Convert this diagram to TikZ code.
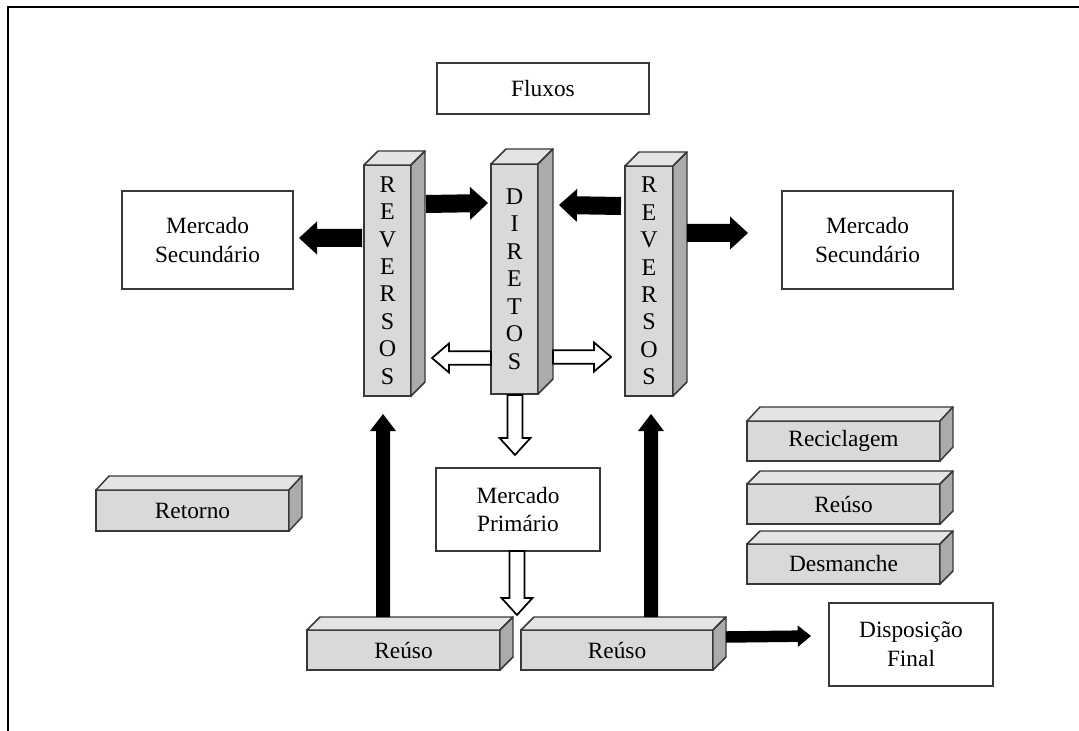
\documentclass[tikz,border=0pt]{standalone}
\usepackage{fontspec}
\setmainfont{Liberation Serif}
\usetikzlibrary{calc}
\definecolor{frontc}{HTML}{D9D9D9}
\definecolor{topc}{HTML}{E4E4E4}
\definecolor{sidec}{HTML}{ABABAB}
\definecolor{edge}{HTML}{383838}
\newcommand\threedfaces[3]{%
  \filldraw[face, fill=topc] (#1.north west) -- ++(#2,#3) -- ($(#1.north east)+(#2,#3)$) -- (#1.north east) -- cycle;
  \filldraw[face, fill=sidec] (#1.north east) -- ++(#2,#3) -- ($(#1.south east)+(#2,#3)$) -- (#1.south east) -- cycle;}
\begin{document}
\begin{tikzpicture}[x=0.75pt,y=-0.75pt,
  every node/.style={font={\fontsize{17.5}{21.5}\selectfont}},
  sz/.style 2 args={minimum width={#1*0.75pt}, minimum height={#2*0.75pt}},
  plainbox/.style={draw=edge, line width=1.1pt, fill=white, inner sep=0pt, outer sep=0pt, align=center},
  frontbox/.style={draw=edge, line width=1.1pt, fill=frontc, inner sep=0pt, outer sep=0pt, align=center},
  colbox/.style={frontbox, font={\fontsize{18}{20.6}\selectfont}},
  face/.style={draw=edge, line width=1.1pt, line join=round},
  blockpath/.style n args={3}{to path={
    let \p1=(\tikztostart), \p2=(\tikztotarget),
        \n1={atan2(\y2-\y1,\x2-\x1)},
        \p3=($(\p2)!#3!(\p1)$) in
    ($(\p1)+(\n1+90:#1)$) -- ($(\p3)+(\n1+90:#1)$) -- ($(\p3)+(\n1+90:#2)$) -- (\p2)
    -- ($(\p3)+(\n1-90:#2)$) -- ($(\p3)+(\n1-90:#1)$) -- ($(\p1)+(\n1-90:#1)$) -- cycle}},
  solidarrow/.style n args={3}{blockpath={#1}{#2}{#3}, fill=black},
  hollowarrow/.style n args={3}{blockpath={#1}{#2}{#3}, fill=white, draw=black, line width=1.3pt, line join=miter}
]
\useasboundingbox (0,0) rectangle (1079,731);
% frame
\draw[line width=1.6pt] (8,731) -- (8,7) -- (1079,7);

% plain boxes
\node[plainbox, sz={212}{51}] (flux) at (543,88.5) {Fluxos};
\node[plainbox, sz={171}{98}] (msl) at (207.5,240) {Mercado\\Secundário};
\node[plainbox, sz={171}{98}] (msr) at (867.5,240) {Mercado\\Secundário};
\node[plainbox, sz={164}{83}] (mp) at (518,509.5) {Mercado\\Primário};
\node[plainbox, sz={164}{83}] (disp) at (911,644.5) {Disposição\\Final};

% columns
\node[colbox, sz={47}{231}] (revL) at (387.5,280.5) {R\\E\\V\\E\\R\\S\\O\\S};
\threedfaces{revL}{14}{-14}
\node[colbox, sz={47}{230}] (dir) at (514.5,279) {D\\I\\R\\E\\T\\O\\S};
\threedfaces{dir}{15}{-15}
\node[colbox, sz={48}{230}] (revR) at (649,281) {R\\E\\V\\E\\R\\S\\O\\S};
\threedfaces{revR}{14}{-14}

% flat 3D boxes
\node[frontbox, sz={193}{41}] (ret) at (192.5,510.5) {Retorno};
\threedfaces{ret}{13}{-14}
\node[frontbox, sz={193}{40}] (recic) at (843.5,441) {Reciclagem};
\threedfaces{recic}{13}{-14}
\node[frontbox, sz={193}{40}] (reuso) at (843.5,504) {Reúso};
\threedfaces{reuso}{13}{-13}
\node[frontbox, sz={193}{40}] (desm) at (843.5,564) {Desmanche};
\threedfaces{desm}{13}{-13}
\node[frontbox, sz={193}{40}] (reusoL) at (403.5,650) {Reúso};
\threedfaces{reusoL}{13}{-13}
\node[frontbox, sz={192}{40}] (reusoR) at (617,650) {Reúso};
\threedfaces{reusoR}{13}{-13}

% solid arrows
\path[solidarrow={6.75pt}{12.4pt}{13.5pt}] ($(revL.north east)+(15,39)$) to ($(dir.north west)+(-3,39)$);
\path[solidarrow={6.75pt}{12.4pt}{13.5pt}] ($(revR.north west)+(-4,40)$) to ($(dir.north east)+(21,41)$);
\path[solidarrow={6.75pt}{12.4pt}{13.5pt}] ($(revL.north west)+(-2,73)$) to ($(msl.east)+(6,-2)$);
\path[solidarrow={6.75pt}{12.4pt}{13.5pt}] ($(revR.north east)+(14,67)$) to ($(msr.west)+(-34,-7)$);
\path[solidarrow={5.25pt}{9.75pt}{12.75pt}] ($(reusoL.north)+(-20.5,-13)$) to ($(revL.south)+(-4.5,18)$);
\path[solidarrow={5.25pt}{9.75pt}{12.75pt}] ($(reusoR.north)+(34,-13)$) to ($(revR.south)+(2,18)$);
\path[solidarrow={4.3pt}{8.1pt}{10pt}] ($(reusoR.east)+(13,-13)$) to ($(disp.west)+(-18,-8.5)$);

% hollow arrows
\path[hollowarrow={5.1pt}{10.9pt}{12.75pt}] ($(dir.north west)+(0,194)$) to ($(revL.north east)+(21,193)$);
\path[hollowarrow={5.1pt}{10.9pt}{12.75pt}] ($(dir.north east)+(15,193)$) to ($(revR.north west)+(-14,191)$);
\path[hollowarrow={5.6pt}{11.6pt}{12.75pt}] ($(dir.south)+(0.5,1)$) to ($(mp.north)+(-3,-13)$);
\path[hollowarrow={5.6pt}{11.6pt}{12.75pt}] ($(mp.south)+(-1,0)$) to ($(reusoL.north east)+(17,-15)$);
\end{tikzpicture}
\end{document}
